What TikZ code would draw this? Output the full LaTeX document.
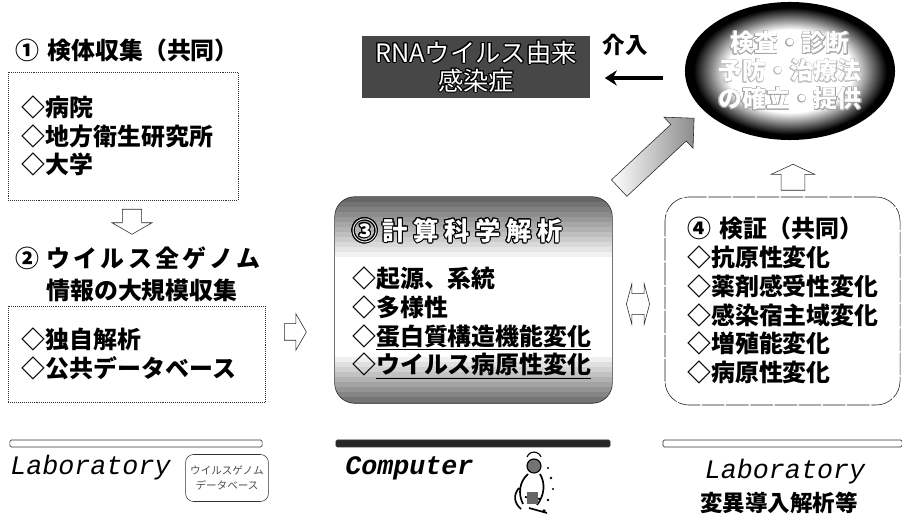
\documentclass[tikz,border=0pt]{standalone}
\usepackage{fontspec}
\usepackage{contour}
\usetikzlibrary{shapes.geometric,shapes.arrows,arrows.meta,positioning,calc}
\newfontfamily\jpfont{Noto Sans CJK JP}
\newfontfamily\labfont{Liberation Mono}
\newcommand{\jpb}{\jpfont\bfseries}
\contourlength{0.7pt}
\pgfdeclareradialshading{glow}{\pgfpoint{0cm}{0cm}}{color(0bp)=(white); color(15bp)=(white); color(23bp)=(black); color(50bp)=(black)}

\begin{document}
\begin{tikzpicture}[x=0.025cm, y=-0.025cm,
heading/.style={font=\jpb\fontsize{17}{20.3}\selectfont, inner sep=0pt, anchor=west, align=left},
itemlist/.style={font=\jpb\fontsize{17}{20.3}\selectfont, inner sep=0pt, anchor=west, align=left},
listbox/.style={draw=black!80, densely dotted, align=left, inner xsep=0.35cm, font=\jpb\fontsize{17}{20.3}\selectfont},
hollowarrow/.style={single arrow, draw=black!85, fill=white, inner xsep=0pt, single arrow tip angle=120},
labtext/.style={font=\labfont\itshape\fontsize{19}{22}\selectfont, inner sep=0pt},
bar/.style={draw=black!80, rounded corners=1pt, minimum height=0.175cm, inner sep=0pt}
]
\useasboundingbox (0,0) rectangle (902,517);

%Nodes
\node[heading] (t1) at (15,50) {①\hspace{0.35em}検体収集（共同）};
\node[listbox, minimum width=5.75cm, minimum height=3.2cm, text width=5.05cm] (hosp) at (123,136)
     {◇病院\\◇地方衛生研究所\\◇大学};
\node[hollowarrow, rotate=-90, minimum height=0.625cm, minimum width=1.0cm, inner ysep=0.225cm] (a12) at (132,219) {};

\node[heading, font=\jpb\fontsize{17}{22.8}\selectfont] (t2) at (15,274)
     {{\addfontfeatures{LetterSpace=14}②\hspace{0.3em}ウイルス全ゲノム}\\\hspace*{1.3em}情報の大規模収集};
\node[listbox, minimum width=6.425cm, minimum height=2.4cm, text width=5.725cm] (genome) at (136.5,354)
     {◇独自解析\\◇公共データベース};
\node[hollowarrow, minimum height=0.55cm, minimum width=0.75cm, inner ysep=0.2cm] (a23) at (293,332) {};

\node[rectangle, fill=black!72, text=white, minimum width=5.675cm, minimum height=1.4cm, align=center,
      font=\jpfont\fontsize{18}{19.9}\selectfont] (rna) at (476,67)
     {\contour{black}{RNAウイルス由来}\\\contour{black}{感染症}};
\node[heading, anchor=center, font=\jpb\fontsize{16}{18}\selectfont] (kainyu) at (625,45) {介入};

\node[ellipse, shade, shading=glow, minimum width=5.25cm, minimum height=3.45cm, inner sep=0pt, align=center,
      text=white, font=\jpb\fontsize{17}{19.9}\selectfont] (goal) at (790,71)
     {\contourlength{0.4pt}\contour{black!35}{検査・診断}\\\contourlength{0.4pt}\contour{black!25}{予防・治療法}\\\contourlength{0.4pt}\contour{black!35}{の確立・提供}};

% analysis box: grey bands at top and bottom, white in between
\node[minimum width=6.925cm, minimum height=5.15cm] (anal) at (473.5,300) {};
\begin{scope}
\clip[rounded corners=0.5cm] (anal.south west) rectangle (anal.north east);
\foreach \i in {0,...,12}{
  \pgfmathtruncatemacro\lev{60-5*\i}
  \fill[black!\lev] (335,{197+5*\i}) rectangle (612,{202.5+5*\i});
}
\foreach \i in {0,...,10}{
  \pgfmathtruncatemacro\lev{6*\i}
  \fill[black!\lev] (335,{352+5*\i}) rectangle (612,{357.5+5*\i});
}
\end{scope}
\draw[black!85, rounded corners=0.5cm] (anal.south west) rectangle (anal.north east);
\node[heading, text=white, font=\jpb\fontsize{18}{20}\selectfont\addfontfeatures{LetterSpace=22}] (analh) at (352,231)
     {\contour{black}{③\hspace{0.2em}計算科学解析}};
\node[itemlist] (anali) at (352,323)
     {◇起源、系統\\◇多様性\\◇\underline{蛋白質構造機能変化}\\◇\underline{ウイルス病原性変化}};

\node[double arrow, draw=black!85, fill=white, minimum height=0.58cm, minimum width=0.72cm, inner xsep=0pt, inner ysep=0.25cm,
      double arrow tip angle=150] (a34) at (638,304) {};

\node[draw=black!90, dash pattern=on 16pt off 1.2pt, rounded corners=0.6cm, minimum width=5.875cm, minimum height=5.2cm] (verify) at (782.5,301) {};
\node[heading] (verh) at (687,228) {④\hspace{0.35em}検証（共同）};
\node[itemlist] (veri) at (687,315)
     {◇抗原性変化\\◇薬剤感受性変化\\◇感染宿主域変化\\◇増殖能変化\\◇病原性変化};

\node[hollowarrow, rotate=90, minimum height=0.65cm, minimum width=0.85cm, inner ysep=0.29cm, single arrow tip angle=130] (aup) at (793,180) {};
\node[single arrow, draw=black!85, rotate=43, left color=white, right color=black!45, minimum height=2.56cm, minimum width=1.0cm,
      inner xsep=0pt, inner ysep=0.275cm] (aout) at (652.5,157) {};

% bottom strip
\node[bar, minimum width=6.3cm] (labbar) at (136,443.5) {};
\node[labtext, anchor=west] (lablft) at (10,468) {Laboratory};
\node[draw=black!80, rounded corners=0.2cm, minimum width=1.95cm, minimum height=1.175cm, align=center, text=black!70,
      font=\jpfont\fontsize{7.5}{11}\selectfont] (gdb) at (227,478) {ウイルスゲノム\\データベース};

\node[bar, fill=black!85, minimum width=6.85cm] (compbar) at (473,443.5) {};
\node[labtext, anchor=west, font=\labfont\bfseries\itshape\fontsize{19}{22}\selectfont] (comp) at (345,468) {Computer};

\node[bar, minimum width=5.975cm] (mutbar) at (782.5,443.5) {};
\node[labtext] (labrgt) at (785,472) {Laboratory};
\node[heading, anchor=center, font=\jpb\fontsize{16}{18}\selectfont] (mut) at (779,503) {変異導入解析等};

% operator at the terminal
\fill[black!55] (534,466) circle (7);
\draw[black, thick] (534,466) circle (7) (527,457) arc (200:340:7.5);
\draw[black, line width=1.2pt] (528,474) .. controls (519,482) and (518,494) .. (523,504)
      (540,474) .. controls (546,484) and (544,496) .. (537,505)
      (519,488) .. controls (513,495) and (514,503) .. (521,509)
      (525,497) -- (541,499) (529,508) -- (547,513);
\fill[black!60] (527,492) rectangle (538,504);
\fill[black] (548,468) circle (1.2) (551,478) circle (1.4) (553,489) circle (1.2) (548,500) circle (1.4) (544,511) circle (1.8);

%Lines
\coordinate (kstart) at (663,78);
\draw[-{Stealth[length=0.3cm,width=0.38cm]}, line width=2.5pt, shorten >=0.375cm] (kstart) -- (rna.east |- kstart);

\end{tikzpicture}
\end{document}
